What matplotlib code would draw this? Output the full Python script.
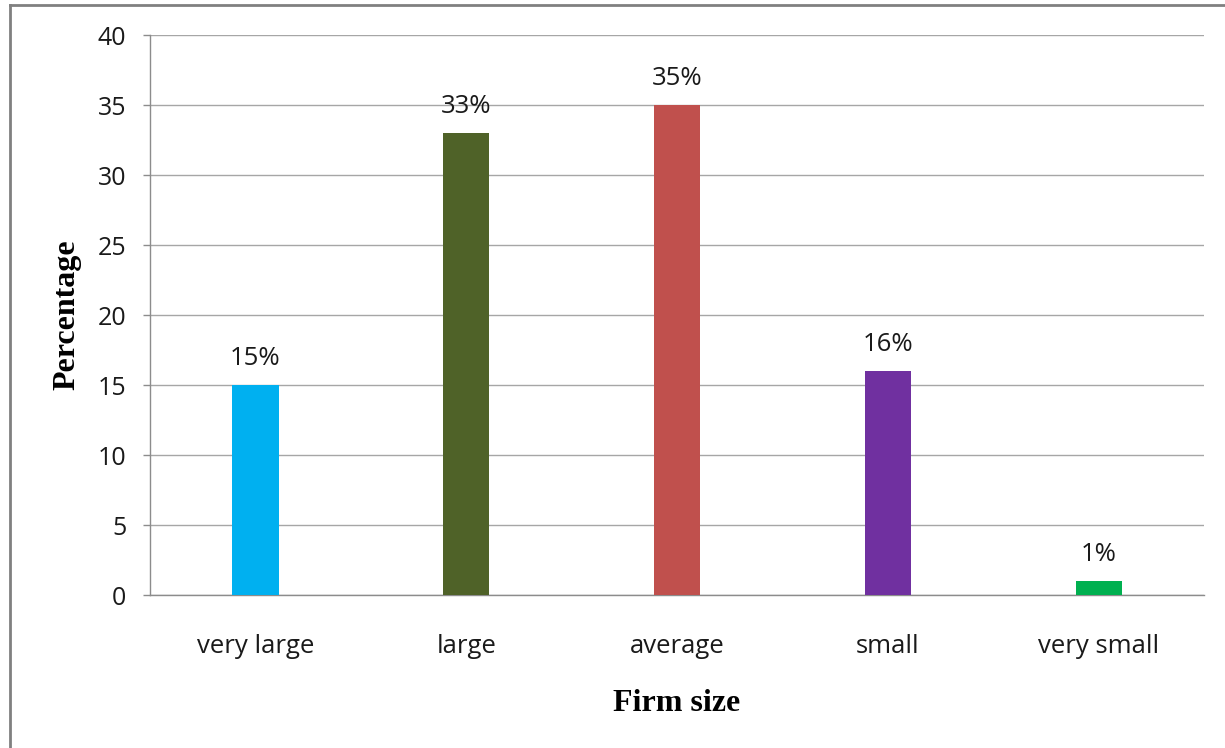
import matplotlib.pyplot as plt
from matplotlib.lines import Line2D

categories = ["very large", "large", "average", "small", "very small"]
percentages = [15, 33, 35, 16, 1]
bar_colors = ["#00B0F0", "#4F6228", "#C0504D", "#7030A0", "#00B050"]
yticks = [0, 5, 10, 15, 20, 25, 30, 35, 40]

plt.rcParams["font.family"] = ["Open Sans", "DejaVu Sans"]

fig = plt.figure(figsize=(12.25, 7.48), dpi=100)
ax = fig.add_axes([0.1225, 0.2045, 0.983 - 0.1225, 0.9532 - 0.2045])

x = list(range(len(categories)))
bars = ax.bar(x, percentages, width=0.22, color=bar_colors, zorder=3)

for b, v in zip(bars, percentages):
    ax.annotate(f"{v}%", (b.get_x() + b.get_width() / 2, v),
                xytext=(0, 10), textcoords="offset points",
                ha="center", va="bottom", fontsize=18.5, color="#1a1a1a")

ax.set_xlim(-0.5, len(categories) - 0.5)
ax.set_ylim(0, 40)
ax.set_yticks(yticks)
ax.set_xticks(x)
ax.set_xticklabels(categories, fontsize=18.5, color="#1a1a1a")
ax.tick_params(axis="x", length=0, pad=28)
ax.tick_params(axis="y", length=5, width=1, color="#8c8c8c",
               labelsize=18, labelcolor="#1a1a1a", pad=12)
ax.grid(axis="y", color="#a6a6a6", linewidth=1, zorder=0)

for side in ["top", "right"]:
    ax.spines[side].set_visible(False)
for side in ["left", "bottom"]:
    ax.spines[side].set_color("#8c8c8c")
    ax.spines[side].set_linewidth(1)

ax.set_xlabel("Firm size", family="Liberation Serif", fontweight="bold",
              fontsize=23, labelpad=22)
ax.set_ylabel("Percentage", family="Liberation Serif", fontweight="bold",
              fontsize=23, labelpad=12)

# outer frame (left and top edges visible)
fig.add_artist(Line2D([0.0085, 0.0085], [0, 0.9935], transform=fig.transFigure,
                      color="#808080", linewidth=2))
fig.add_artist(Line2D([0.0085, 1.0], [0.9935, 0.9935], transform=fig.transFigure,
                      color="#808080", linewidth=2))

fig.savefig("out.png", dpi=100)
